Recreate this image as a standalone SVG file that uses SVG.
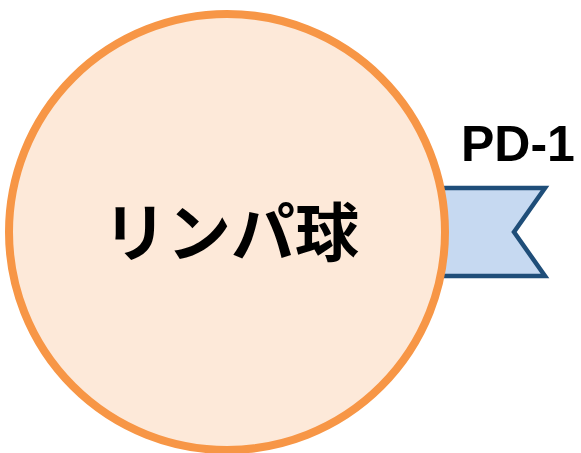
<svg xmlns="http://www.w3.org/2000/svg" width="581" height="453" viewBox="0 0 581 453">
<style>
.lbl{font-family:"Liberation Sans","Noto Sans CJK JP",sans-serif;font-weight:bold;fill:#000}
</style>
<rect width="581" height="453" fill="#fff"/>
<g id="pd1">
<polygon points="400,188 545,188 514,232 545,276 400,276" fill="#C6D9F1" stroke="#1F4E79" stroke-width="4.5" stroke-linejoin="miter"/>
<text class="lbl" x="461" y="161" font-size="50">PD-1</text>
</g>
<g id="lymphocyte">
<circle cx="227" cy="232" r="218" fill="#FDE9D9" stroke="#F79646" stroke-width="8"/>
<text class="lbl" x="231" y="256" font-size="64" text-anchor="middle">リンパ球</text>
</g>
<g id="connectors"></g>
</svg>
